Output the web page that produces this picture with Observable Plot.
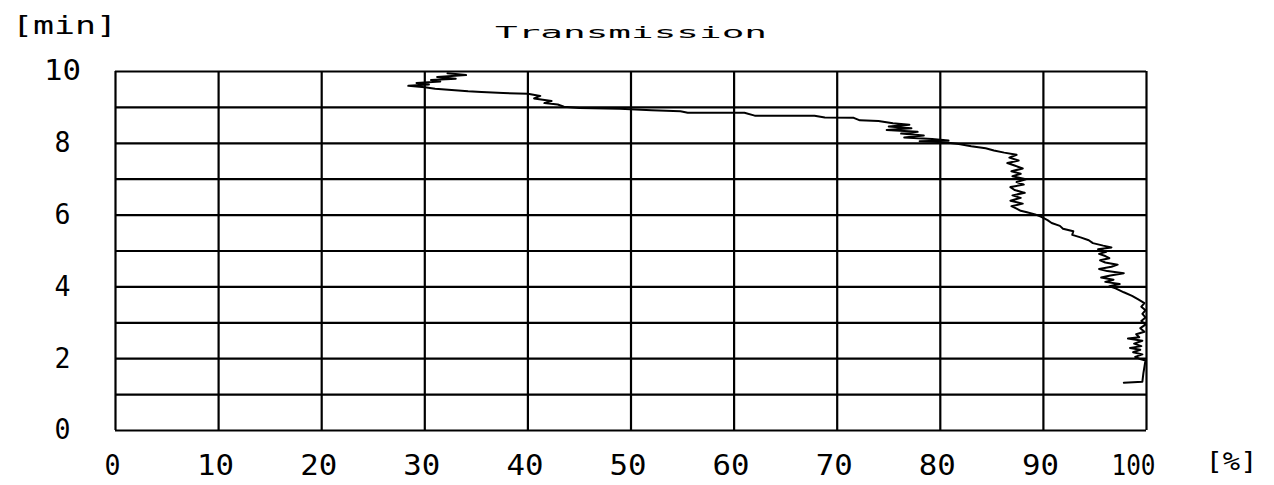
<!DOCTYPE html>
<html>
<head>
<meta charset="utf-8">
<script src="https://cdn.jsdelivr.net/npm/d3@7"></script>
<script src="https://cdn.jsdelivr.net/npm/@observablehq/plot@0.6"></script>
<style>
  html, body { margin: 0; padding: 0; background: #fff; }
  #chart svg { display: block; }
</style>
</head>
<body>
<div id="chart"></div>
<script>
// Tick values / labels
const xTicks = [0, 10, 20, 30, 40, 50, 60, 70, 80, 90, 100];
const yTicks = [0, 2, 4, 6, 8, 10];
const yGrid = [0, 1, 2, 3, 4, 5, 6, 7, 8, 9, 10];
const titleText = "Transmission";
const yUnit = "[min]";
const xUnit = "[%]";

// Trace: time [min] and transmission [%]
const timeMin = [
  1.33, 1.36, 1.60, 1.95, 2.00, 2.05, 2.12, 2.18, 2.25, 2.30, 2.35, 2.42, 2.50, 2.56, 2.60, 2.68,
  2.75, 2.85, 2.95, 3.05, 3.15, 3.25, 3.35, 3.45, 3.55, 3.65, 3.75, 3.85, 3.96, 4.02, 4.08, 4.14,
  4.20, 4.26, 4.32, 4.38, 4.44, 4.50, 4.56, 4.62, 4.68, 4.74, 4.80, 4.86, 4.92, 4.98, 5.05, 5.10,
  5.15, 5.22, 5.30, 5.38, 5.45, 5.55, 5.62, 5.70, 5.78, 5.86, 5.95, 6.02, 6.08, 6.12, 6.18, 6.25,
  6.32, 6.40, 6.48, 6.55, 6.62, 6.70, 6.78, 6.85, 6.92, 7.00, 7.08, 7.15, 7.22, 7.30, 7.38, 7.45,
  7.52, 7.60, 7.68, 7.74, 7.80, 7.86, 7.92, 7.98, 8.03, 8.06, 8.08, 8.12, 8.16, 8.22, 8.27, 8.32,
  8.37, 8.42, 8.47, 8.52, 8.56, 8.62, 8.64, 8.71, 8.72, 8.77, 8.77, 8.85, 8.85, 8.89, 8.92, 8.96,
  8.98, 9.02, 9.08, 9.12, 9.18, 9.25, 9.32, 9.38, 9.40, 9.43, 9.45, 9.52, 9.56, 9.60, 9.64, 9.68,
  9.72, 9.76, 9.80, 9.85, 9.90, 9.95
];
const transmission = [
  97.8, 99.6, 99.7, 99.9, 99.3, 98.9, 99.6, 98.7, 99.4, 98.4, 99.5, 98.8, 99.6, 98.2, 99.3, 99.0,
  99.8, 99.4, 99.9, 99.5, 99.9, 99.6, 99.9, 99.5, 99.8, 99.2, 98.6, 97.8, 97.0, 96.4, 97.4, 96.0,
  96.8, 95.6, 96.5, 97.8, 96.2, 95.4, 96.6, 97.2, 96.0, 95.5, 96.4, 96.0, 95.4, 96.1, 95.3, 96.6,
  95.8, 94.8, 94.4, 93.6, 92.8, 92.9, 91.9, 91.6, 90.8, 90.4, 89.8, 89.2, 88.4, 87.8, 87.4, 86.9,
  88.0, 86.8, 87.8, 87.0, 88.2, 87.2, 86.8, 88.1, 87.4, 88.3, 87.0, 87.8, 86.9, 88.0, 87.2, 86.5,
  87.6, 86.7, 87.4, 86.2, 85.2, 84.4, 83.0, 81.8, 80.4, 78.0, 80.8, 79.2, 76.5, 78.4, 76.2, 77.8,
  74.8, 77.2, 75.0, 77.0, 75.4, 74.0, 72.2, 71.6, 68.8, 67.8, 62.0, 61.0, 55.5, 54.8, 52.0, 48.9,
  45.0, 43.5, 42.9, 41.6, 42.3, 40.6, 41.2, 40.0, 37.6, 35.5, 34.2, 31.0, 30.0, 28.4, 30.4, 29.2,
  31.5, 30.6, 33.0, 31.2, 34.0, 32.2
];

const trace = timeMin.map((t, i) => ({t, x: transmission[i]}));
const font = "'DejaVu Sans Mono', monospace";
const xMain = xTicks.filter(d => d < 100);
const xLast = xTicks.filter(d => d >= 100);

const chart = Plot.plot({
  width: 1274,
  height: 485,
  marginTop: 71,
  marginRight: 128,
  marginBottom: 55,
  marginLeft: 115,
  x: {domain: [0, 100], axis: null},
  y: {domain: [0, 10], axis: null},
  style: {background: "#fff", fontFamily: font, color: "#000"},
  marks: [
    Plot.ruleX(xTicks, {stroke: "#000", strokeWidth: 2.2, strokeOpacity: 1}),
    Plot.ruleY(yGrid, {stroke: "#000", strokeWidth: 2.2, strokeOpacity: 1}),
    Plot.line(trace, {x: "x", y: "t", stroke: "#000", strokeWidth: 2, curve: "linear"}),
    Plot.text(yTicks, {x: 0, y: d => d, text: d => String(d), dx: -53, textAnchor: "middle", fontSize: 28, fill: "#000", className: "ticklab"}),
    Plot.text(xMain, {x: d => d, y: 0, text: d => String(d), dx: -3, dy: 36, textAnchor: "middle", fontSize: 28, fill: "#000", className: "ticklab"}),
    Plot.text(xLast, {x: d => d, y: 0, text: d => String(d), dx: -13, dy: 36, textAnchor: "middle", fontSize: 28, fill: "#000", className: "ticklab"}),
    Plot.text([titleText], {frameAnchor: "top", text: d => d, dy: -45, fontSize: 16, fill: "#000", className: "titlelab"}),
    Plot.text([yUnit], {frameAnchor: "top-left", text: d => d, dx: -51, dy: -55, textAnchor: "middle", fontSize: 24, fill: "#000", className: "yunit"}),
    Plot.text([xUnit], {frameAnchor: "bottom-right", text: d => d, dx: 85, dy: 39, textAnchor: "middle", fontSize: 24, fill: "#000", className: "xunit"})
  ]
});

// Stretch text horizontally like the plotter lettering
const widths = {1: 16, 2: 37, 3: 44};
d3.select(chart).selectAll(".ticklab text").each(function() {
  const s = this.textContent;
  d3.select(this).attr("textLength", widths[s.length]).attr("lengthAdjust", "spacingAndGlyphs");
});
d3.select(chart).selectAll(".titlelab text").attr("textLength", 272).attr("lengthAdjust", "spacingAndGlyphs");
d3.select(chart).selectAll(".yunit text").attr("textLength", 105).attr("lengthAdjust", "spacingAndGlyphs");
d3.select(chart).selectAll(".xunit text").attr("textLength", 52).attr("lengthAdjust", "spacingAndGlyphs");

document.getElementById("chart").appendChild(chart);
</script>
</body>
</html>
